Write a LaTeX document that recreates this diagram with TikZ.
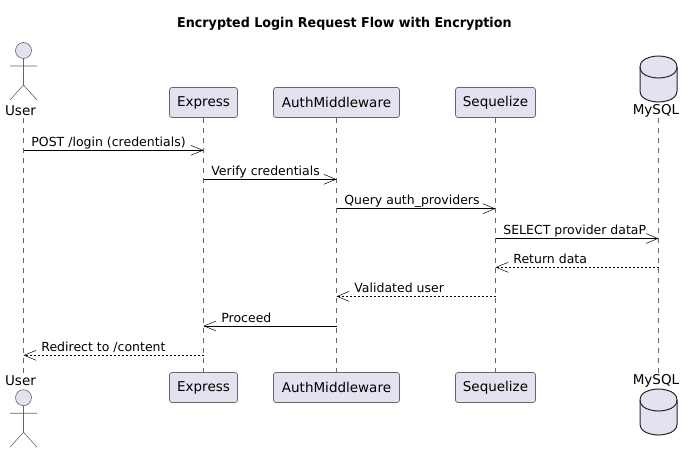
\documentclass[tikz,border=0pt]{standalone}
\usepackage{fontspec}
\setmainfont[BoldFeatures={FakeStretch=0.94}]{DejaVu Sans}
\usetikzlibrary{arrows.meta}
\definecolor{boxfill}{HTML}{E2E2F0}
\definecolor{boxline}{HTML}{666666}

\begin{document}
\begin{tikzpicture}[
  x=1pt, y=-1pt,
  font=\fontsize{12.5}{15}\selectfont,
  participant/.style={draw=boxline, fill=boxfill, rounded corners=2.5pt, line width=0.7pt, minimum height=30pt, inner sep=0pt, font=\fontsize{13.5}{16}\selectfont},
  endlabel/.style={inner sep=0pt, minimum height=14pt, font=\fontsize{13.5}{16}\selectfont},
  lifeline/.style={draw=boxline, line width=0.5pt, dash pattern=on 5pt off 5pt},
  sync/.style={line width=0.8pt, -{Straight Barb[length=12pt,width=10pt,line width=0.5pt]}},
  reply/.style={sync, dash pattern=on 2pt off 2pt},
  msg/.style={anchor=base west, inner sep=0pt, yshift=4pt},
  stickman/.pic={
    \draw[boxline, line width=0.6pt, fill=boxfill] (0,0) circle (8);
    \draw[boxline, line width=0.6pt] (0,8) -- (0,34.5) (-13.5,15.5) -- (13.5,15.5) (-13.5,49.5) -- (0,34.5) -- (13.5,49.5);
  },
  database/.pic={
    \draw[black!85, line width=1pt, fill=boxfill] (-18.5,11) .. controls (-18.5,0) and (0,0) .. (0,0) .. controls (0,0) and (18.5,0) .. (18.5,11) -- (18.5,35) .. controls (18.5,46) and (0,46) .. (0,46) .. controls (0,46) and (-18.5,46) .. (-18.5,35) -- cycle;
    \draw[black!85, line width=1pt] (-18.5,11) .. controls (-18.5,22) and (0,22) .. (0,22) .. controls (0,22) and (18.5,22) .. (18.5,11);
  }
]
\useasboundingbox (0,0) rectangle (692,453);

\node[inner sep=0pt, font=\fontsize{13.5}{16}\selectfont\bfseries] (title) at (344.4,24) {Encrypted Login Request Flow with Encryption};

% Top row
\pic at (23.5,50.5) {stickman};
\node[endlabel] (userTop) at (20.5,111) {User};
\node[participant, minimum width=68pt] (expressTop) at (203.5,102.5) {Express};
\node[participant, minimum width=126pt] (authTop) at (336.5,102.5) {AuthMiddleware};
\node[participant, minimum width=80pt] (sequelizeTop) at (495.5,102.5) {Sequelize};
\pic at (658.5,56) {database};
\node[endlabel] (mysqlTop) at (656,111) {MySQL};

% Bottom row
\node[endlabel] (userBottom) at (20.5,381) {User};
\pic at (23.5,397.7) {stickman};
\node[participant, minimum width=68pt] (expressBottom) at (203.5,387.5) {Express};
\node[participant, minimum width=126pt] (authBottom) at (336.5,387.5) {AuthMiddleware};
\node[participant, minimum width=80pt] (sequelizeBottom) at (495.5,387.5) {Sequelize};
\pic at (658.5,389) {database};
\node[endlabel] (mysqlBottom) at (656,381) {MySQL};

% Message ends
\foreach \lane/\x in {user/23.5,express/203.5,auth/336.5,sequelize/495.5,mysql/658.5}
  \foreach \row/\y in {0/118,1/150.3,2/179.3,3/208.7,4/238.5,5/267.3,6/296.4,7/326,8/355.3,9/373}
    \coordinate (\lane\row) at (\x,\y);

% Lifelines
\draw[lifeline] (user0) -- (user9);
\draw[lifeline] (expressTop) -- (expressBottom);
\draw[lifeline] (authTop) -- (authBottom);
\draw[lifeline] (sequelizeTop) -- (sequelizeBottom);
\draw[lifeline] (mysql0) -- (mysql9);

% Messages
\draw[sync] (user1) -- (express1) node[msg, pos=0, xshift=7.5pt] {POST /login (credentials)};
\draw[sync] (express2) -- (auth2) node[msg, pos=0, xshift=7.5pt] {Verify credentials};
\draw[sync] (auth3) -- (sequelize3) node[msg, pos=0, xshift=7.5pt] {Query auth\_providers};
\draw[sync] (sequelize4) -- (mysql4) node[msg, pos=0, xshift=7.5pt] {SELECT provider dataP};
\draw[reply] (mysql5) -- (sequelize5) node[msg, pos=1, xshift=17.5pt] {Return data};
\draw[reply] (sequelize6) -- (auth6) node[msg, pos=1, xshift=17.5pt] {Validated user};
\draw[sync] (auth7) -- (express7) node[msg, pos=1, xshift=17.5pt] {Proceed};
\draw[reply] (express8) -- (user8) node[msg, pos=1, xshift=17.5pt] {Redirect to /content};
\end{tikzpicture}
\end{document}
